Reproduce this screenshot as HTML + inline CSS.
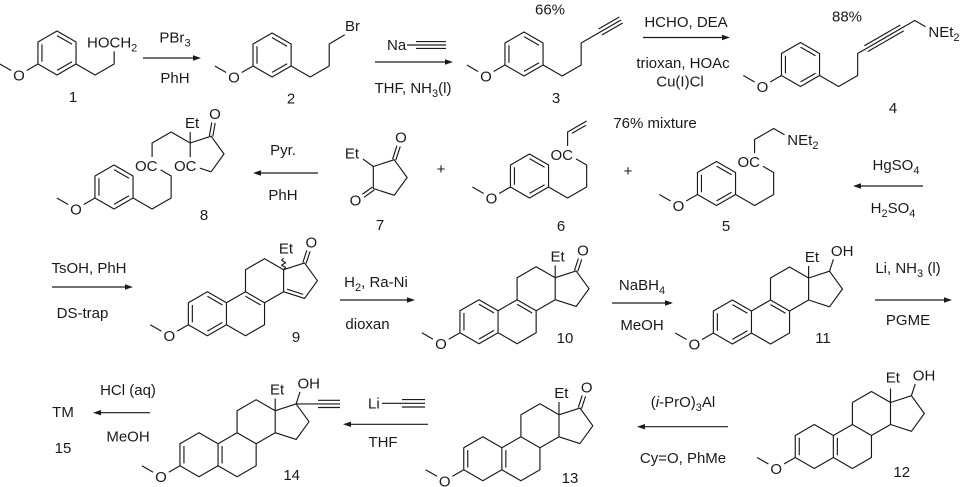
<!DOCTYPE html>
<html><head><meta charset="utf-8">
<style>
html,body{margin:0;padding:0;background:#fff;}
svg{display:block;}
text{font-family:"Liberation Sans",Arial,sans-serif;font-size:15px;fill:#1a1a1a;}
text.l{paint-order:stroke;stroke:#fff;stroke-width:8px;stroke-linejoin:round;}
text.l tspan.s{stroke:none;}
.b{fill:none;stroke:#1a1a1a;stroke-width:1.15;stroke-linejoin:round;stroke-linecap:butt;}
.ah{fill:#1a1a1a;stroke:none;}
</style></head>
<body>
<svg width="960" height="487" viewBox="0 0 960 487" xmlns="http://www.w3.org/2000/svg">
<defs>
<g id="an" class="b">
<polygon points="0,-22 19.05,-11 19.05,11 0,22 -19.05,11 -19.05,-11"/>
<path d="M0,-17.4L15.05,-8.7M15.05,8.7L0,17.4M-15.05,8.7L-15.05,-8.7M-19.05,11L-38.1,22L-57.15,11"/>
</g>
<path id="sk" class="b" d="M0,-22L19.05,-11L19.05,11L0,22L-19.05,11L-19.05,-11Z M19.05,-11L38.1,-22L57.15,-11L57.15,11L38.1,22L19.05,11 M38.1,-22L38.1,-44L57.15,-55L76.2,-44L76.2,-22L57.15,-11 M76.2,-44L97.12,-50.78L110.04,-33L97.12,-15.22L76.2,-22 M-19.05,11L-38.1,22L-57.15,11"/>
<path id="arom" class="b" d="M0,-17.4L15.05,-8.7M15.05,8.7L0,17.4M-15.05,8.7L-15.05,-8.7M38.1,-17.4L53.2,-8.7"/>
<path id="dien" class="b" d="M-15.05,8.7L-15.05,-8.7M23.05,-8.7L23.05,8.7"/>
<path id="ko" class="b" d="M98.74,-50.25L103.38,-64.52M95.5,-51.31L100.14,-65.58"/>
<path id="oh" class="b" d="M97.12,-50.78L103.9,-71.7"/>
<path id="et" class="b" d="M76.2,-44L76.2,-58"/>
</defs>

<!-- ===== Row 1 ===== -->
<use href="#an" x="57" y="53"/>
<polyline class="b" points="76.05,64 95.1,75 114.15,64 114.15,42"/>
<text class="l" x="18.95" y="80.5" text-anchor="middle">O</text>
<text class="l" x="87" y="47.5">HOCH<tspan class="s" font-size="11" dy="4">2</tspan></text>
<text x="73" y="102" text-anchor="middle">1</text>

<line class="b" x1="143" y1="58" x2="194" y2="58"/>
<polygon class="ah" points="201,58 193,55.3 193,60.7"/>
<text x="175" y="42.5" text-anchor="middle">PBr<tspan font-size="11" dy="4">3</tspan></text>
<text x="175" y="83" text-anchor="middle">PhH</text>

<use href="#an" x="272.05" y="55"/>
<polyline class="b" points="291.1,66 310.15,77 329.2,66 329.2,44 346,34"/>
<text class="l" x="233.95" y="82.5" text-anchor="middle">O</text>
<text class="l" x="345" y="31">Br</text>
<text x="291" y="103.5" text-anchor="middle">2</text>

<line class="b" x1="375" y1="62" x2="446" y2="62"/>
<polygon class="ah" points="453,62 445,59.3 445,64.7"/>
<text x="387" y="50">Na</text>
<path class="b" d="M407,45L446,45M416,41.6L446,41.6M416,48.4L446,48.4"/>
<text x="413" y="93" text-anchor="middle">THF, NH<tspan font-size="11" dy="4">3</tspan><tspan dy="-4">(l)</tspan></text>

<use href="#an" x="524" y="54"/>
<polyline class="b" points="543.05,65 562.1,76 581.15,65 581.15,43 600.2,32 621,20"/>
<path class="b" d="M601.9,34.94L622.7,22.94M598.5,29.06L619.3,17.06"/>
<text class="l" x="485.9" y="81.5" text-anchor="middle">O</text>
<text x="550" y="14.5" text-anchor="middle">66%</text>
<text x="556" y="103" text-anchor="middle">3</text>

<line class="b" x1="643" y1="37.5" x2="723" y2="37.5"/>
<polygon class="ah" points="730,37.5 722,34.8 722,40.2"/>
<text x="686" y="27" text-anchor="middle">HCHO, DEA</text>
<text x="683" y="68" text-anchor="middle">trioxan, HOAc</text>
<text x="680" y="86.5" text-anchor="middle">Cu(I)Cl</text>

<use href="#an" x="800.5" y="64.5"/>
<polyline class="b" points="819.55,75.5 838.6,86.5 857.65,75.5 857.65,53.5 866,48.7 902,27.9 914.8,20.5 933.85,31.5"/>
<path class="b" d="M867.7,51.64L903.7,30.84M864.3,45.76L900.3,24.96"/>
<text class="l" x="762.4" y="92" text-anchor="middle">O</text>
<text class="l" x="928.4" y="37">NEt<tspan class="s" font-size="11" dy="4">2</tspan></text>
<text x="847" y="21.7" text-anchor="middle">88%</text>
<text x="893" y="113" text-anchor="middle">4</text>

<!-- ===== Row 2 ===== -->
<use href="#an" x="114" y="187"/>
<polyline class="b" points="133.05,198 152.1,209 171.15,198 171.15,176 152.1,165 152.1,143 171.15,132 190.2,143"/>
<polygon class="b" points="190.2,143 211.1,136.2 224,154 211.1,171.8 190.2,165"/>
<line class="b" x1="190.2" y1="143" x2="190.2" y2="128"/>
<path class="b" d="M212.8,136.5L215.4,121.7M209.4,135.9L212,121.1"/>
<text class="l" x="75.9" y="214.5" text-anchor="middle">O</text>
<text class="l" x="135" y="171">OC</text>
<text class="l" x="174" y="171">OC</text>
<text class="l" x="185" y="128">Et</text>
<text class="l" x="215" y="118.8" text-anchor="middle">O</text>
<text x="204" y="220" text-anchor="middle">8</text>

<line class="b" x1="318" y1="173" x2="260" y2="173"/>
<polygon class="ah" points="253,173 261,170.3 261,175.7"/>
<text x="283" y="155" text-anchor="middle">Pyr.</text>
<text x="283" y="200" text-anchor="middle">PhH</text>

<polygon class="b" points="373.3,166.5 394.2,159.7 407.1,177.5 394.2,195.3 373.3,188.5"/>
<line class="b" x1="373.3" y1="166.5" x2="357" y2="154.8"/>
<path class="b" d="M395.8,160.2L400.4,145.9M392.6,159.2L397.2,144.9M374.3,189.9L362.2,198.7M372.3,187.1L360.2,195.9"/>
<text class="l" x="359" y="158.5" text-anchor="end">Et</text>
<text class="l" x="401" y="142.5" text-anchor="middle">O</text>
<text class="l" x="355.5" y="205.5" text-anchor="middle">O</text>
<text x="380" y="230" text-anchor="middle">7</text>

<text x="441" y="174" text-anchor="middle">+</text>

<use href="#an" x="529.5" y="176"/>
<polyline class="b" points="548.55,187 567.6,198 586.65,187 586.65,165 567.6,154 567.6,132 586.65,121"/>
<line class="b" x1="571.9" y1="133.4" x2="585.75" y2="125.4"/>
<text class="l" x="491.4" y="203.5" text-anchor="middle">O</text>
<text class="l" x="550.5" y="160">OC</text>
<text x="655" y="128" text-anchor="middle">76% mixture</text>
<text x="561" y="231" text-anchor="middle">6</text>

<text x="628" y="176" text-anchor="middle">+</text>

<use href="#an" x="716.5" y="183.5"/>
<polyline class="b" points="735.55,194.5 754.6,205.5 773.65,194.5 773.65,172.5 754.6,161.5 754.6,139.5 773.65,128.5 792.7,139.5"/>
<text class="l" x="678.4" y="211" text-anchor="middle">O</text>
<text class="l" x="737.5" y="167">OC</text>
<text class="l" x="787.3" y="145">NEt<tspan class="s" font-size="11" dy="4">2</tspan></text>
<text x="726" y="231" text-anchor="middle">5</text>

<line class="b" x1="923" y1="186" x2="860" y2="186"/>
<polygon class="ah" points="853,186 861,183.3 861,188.7"/>
<text x="896" y="170" text-anchor="middle">HgSO<tspan font-size="11" dy="4">4</tspan></text>
<text x="893" y="213" text-anchor="middle">H<tspan font-size="11" dy="4">2</tspan><tspan dy="-4">SO</tspan><tspan font-size="11" dy="4">4</tspan></text>

<!-- ===== Row 3 ===== -->
<line class="b" x1="52" y1="287" x2="126" y2="287"/>
<polygon class="ah" points="133,287 125,284.3 125,289.7"/>
<text x="89" y="273" text-anchor="middle">TsOH, PhH</text>
<text x="82.5" y="318" text-anchor="middle">DS-trap</text>

<g transform="translate(207.4,313.7)">
<use href="#sk"/><use href="#arom"/><use href="#ko"/>
<path class="b" d="M79.68,-24.53L95.79,-19.31"/>
<path class="b" d="M76.2,-44l2,-2.2l-4,-2.4l4,-2.4l-4,-2.4l2,-2.2"/>
<text class="l" x="-38.1" y="27.5" text-anchor="middle">O</text>
<text class="l" x="71.5" y="-60">Et</text>
<text class="l" x="103.9" y="-66.2" text-anchor="middle">O</text>
<text x="88.6" y="28.3" text-anchor="middle">9</text>
</g>

<line class="b" x1="340" y1="300" x2="408" y2="300"/>
<polygon class="ah" points="415,300 407,297.3 407,302.7"/>
<text x="376" y="287" text-anchor="middle">H<tspan font-size="11" dy="4">2</tspan><tspan dy="-4">, Ra-Ni</tspan></text>
<text x="367.5" y="329" text-anchor="middle">dioxan</text>

<g transform="translate(479,321.7)">
<use href="#sk"/><use href="#arom"/><use href="#ko"/><use href="#et"/>
<text class="l" x="-38.1" y="27.5" text-anchor="middle">O</text>
<text class="l" x="71.5" y="-60">Et</text>
<text class="l" x="103.9" y="-66.2" text-anchor="middle">O</text>
<text x="86" y="21.3" text-anchor="middle">10</text>
</g>

<line class="b" x1="612" y1="303" x2="666" y2="303"/>
<polygon class="ah" points="673,303 665,300.3 665,305.7"/>
<text x="642" y="290" text-anchor="middle">NaBH<tspan font-size="11" dy="4">4</tspan></text>
<text x="642" y="330" text-anchor="middle">MeOH</text>

<g transform="translate(732.4,322)">
<use href="#sk"/><use href="#arom"/><use href="#oh"/><use href="#et"/>
<text class="l" x="-38.1" y="27.5" text-anchor="middle">O</text>
<text class="l" x="72.5" y="-60">Et</text>
<text class="l" x="98.5" y="-66.2">OH</text>
<text x="90.6" y="21" text-anchor="middle">11</text>
</g>

<line class="b" x1="875" y1="300" x2="945" y2="300"/>
<polygon class="ah" points="952,300 944,297.3 944,302.7"/>
<text x="908" y="273" text-anchor="middle">Li, NH<tspan font-size="11" dy="4">3</tspan><tspan dy="-4"> (l)</tspan></text>
<text x="908" y="325" text-anchor="middle">PGME</text>

<!-- ===== Row 4 ===== -->
<text x="63" y="417" text-anchor="middle">TM</text>
<text x="63" y="453" text-anchor="middle">15</text>
<line class="b" x1="150" y1="412.7" x2="100" y2="412.7"/>
<polygon class="ah" points="93,412.7 101,410 101,415.4"/>
<text x="128" y="395" text-anchor="middle">HCl (aq)</text>
<text x="128" y="441.5" text-anchor="middle">MeOH</text>

<g transform="translate(199,454.7)">
<use href="#sk"/><use href="#dien"/><use href="#oh"/><use href="#et"/>
<path class="b" d="M97.12,-50.78L141,-50.78M119,-54.4L141,-54.4M119,-47.2L141,-47.2"/>
<text class="l" x="-38.1" y="27.5" text-anchor="middle">O</text>
<text class="l" x="71" y="-60">Et</text>
<text class="l" x="98.5" y="-66.2">OH</text>
<text x="92.7" y="25.3" text-anchor="middle">14</text>
</g>

<line class="b" x1="428" y1="424.3" x2="350" y2="424.3"/>
<polygon class="ah" points="343,424.3 351,421.6 351,427"/>
<text x="368" y="408.5">Li</text>
<path class="b" d="M382,403.3L425,403.3M402,399.6L425,399.6M402,407L425,407"/>
<text x="383" y="447" text-anchor="middle">THF</text>

<g transform="translate(482.8,458.8)">
<use href="#sk"/><use href="#dien"/><use href="#ko"/><use href="#et"/>
<text class="l" x="-38.1" y="27.5" text-anchor="middle">O</text>
<text class="l" x="71.5" y="-61">Et</text>
<text class="l" x="103.9" y="-66.2" text-anchor="middle">O</text>
<text x="87.2" y="24.2" text-anchor="middle">13</text>
</g>

<line class="b" x1="728" y1="426.7" x2="644" y2="426.7"/>
<polygon class="ah" points="637,426.7 645,424 645,429.4"/>
<text x="683" y="407" text-anchor="middle">(<tspan font-style="italic">i</tspan>-PrO)<tspan font-size="11" dy="4">3</tspan><tspan dy="-4">Al</tspan></text>
<text x="683" y="463" text-anchor="middle">Cy=O, PhMe</text>

<g transform="translate(814.3,446.5)">
<use href="#sk"/><use href="#dien"/><use href="#oh"/><use href="#et"/>
<text class="l" x="-38.1" y="27.5" text-anchor="middle">O</text>
<text class="l" x="71.5" y="-64">Et</text>
<text class="l" x="98.5" y="-66.2">OH</text>
<text x="87.4" y="30.5" text-anchor="middle">12</text>
</g>
</svg>
</body></html>
